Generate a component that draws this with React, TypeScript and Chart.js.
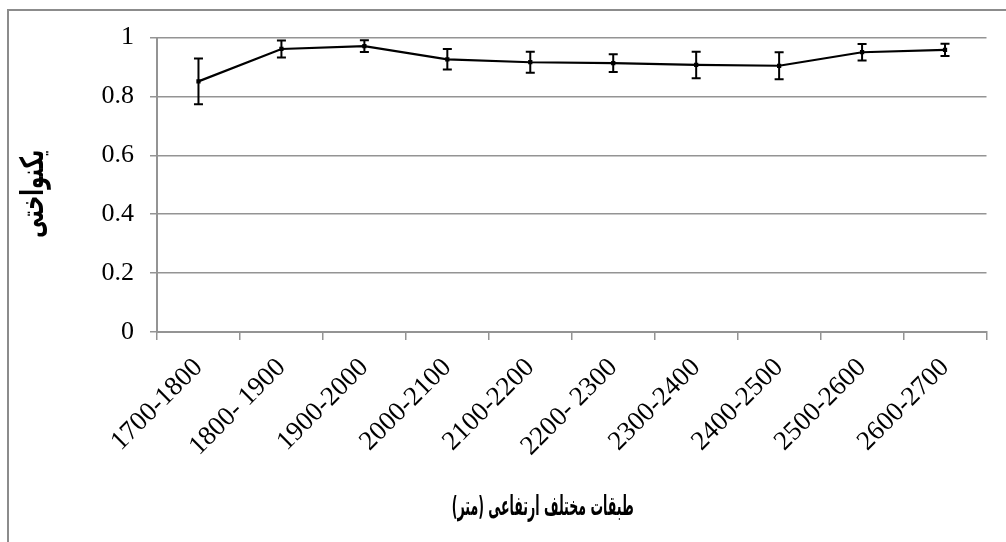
import React, { useEffect, useRef } from "react";
import { Chart, registerables } from "chart.js";

Chart.register(...registerables);

const categories = [
  "1700-1800",
  "1800- 1900",
  "1900-2000",
  "2000-2100",
  "2100-2200",
  "2200- 2300",
  "2300-2400",
  "2400-2500",
  "2500-2600",
  "2600-2700",
];
const uniformity = [0.851, 0.961, 0.971, 0.926, 0.916, 0.913, 0.907, 0.904, 0.95, 0.958];
const errors = [0.078, 0.029, 0.02, 0.035, 0.036, 0.03, 0.045, 0.046, 0.028, 0.021];
const yTicks = [0, 0.2, 0.4, 0.6, 0.8, 1];
const xTitle = "طبقات مختلف ارتفاعی (متر)";
const yTitle = "یکنواختی";

const GRAY = "#949494";

const errorBarPlugin = {
  id: "errorBars",
  afterDatasetsDraw(chart: any) {
    const ctx = chart.ctx;
    const meta = chart.getDatasetMeta(0);
    const y = chart.scales.y;
    ctx.save();
    ctx.strokeStyle = "#000";
    ctx.lineWidth = 2;
    meta.data.forEach((pt: any, i: number) => {
      const x = pt.x;
      const top = y.getPixelForValue(uniformity[i] + errors[i]);
      const bot = y.getPixelForValue(uniformity[i] - errors[i]);
      ctx.beginPath();
      ctx.moveTo(x, top);
      ctx.lineTo(x, bot);
      ctx.moveTo(x - 4.5, top);
      ctx.lineTo(x + 4.5, top);
      ctx.moveTo(x - 4.5, bot);
      ctx.lineTo(x + 4.5, bot);
      ctx.stroke();
    });
    ctx.restore();
  },
};

function drawFitted(ctx: any, text: string, width: number) {
  const w = ctx.measureText(text).width;
  const s = Math.min(1, width / w);
  ctx.save();
  ctx.scale(s, 1);
  ctx.fillText(text, 0, 0);
  ctx.restore();
}

const titlesPlugin = {
  id: "axisTitles",
  afterDraw(chart: any) {
    const ctx = chart.ctx;
    const area = chart.chartArea;
    ctx.save();
    ctx.fillStyle = "#000";
    ctx.textAlign = "center";
    ctx.textBaseline = "middle";
    ctx.direction = "rtl";
    // x title
    ctx.save();
    ctx.font = "bold 27px 'DejaVu Sans'";
    ctx.translate((area.left + area.right) / 2 - 29, 508);
    drawFitted(ctx, xTitle, 182);
    ctx.restore();
    // y title
    ctx.save();
    ctx.font = "bold 32px 'DejaVu Sans'";
    ctx.translate(35, (area.top + area.bottom) / 2 + 9);
    ctx.rotate(-Math.PI / 2);
    drawFitted(ctx, yTitle, 88);
    ctx.restore();
    ctx.restore();
  },
};

const framePlugin = {
  id: "frame",
  beforeDraw(chart: any) {
    const ctx = chart.ctx;
    ctx.save();
    ctx.strokeStyle = "#8c8c8c";
    ctx.lineWidth = 2;
    ctx.beginPath();
    ctx.moveTo(8, 542);
    ctx.lineTo(8, 10);
    ctx.lineTo(1006, 10);
    ctx.stroke();
    ctx.restore();
  },
};

export default function App() {
  const ref = useRef<HTMLCanvasElement | null>(null);
  useEffect(() => {
    if (!ref.current) return;
    const chart = new Chart(ref.current, {
      type: "line",
      data: {
        labels: categories,
        datasets: [
          {
            data: uniformity,
            borderColor: "#000",
            backgroundColor: "#000",
            borderWidth: 2.2,
            pointStyle: "rect",
            pointRadius: 3,
            pointBorderWidth: 0,
            tension: 0,
          },
        ],
      },
      options: {
        responsive: false,
        animation: false,
        layout: { padding: { left: 0, right: 19.5, top: 37.5, bottom: 0 } },
        plugins: {
          legend: { display: false },
          tooltip: { enabled: false },
        },
        scales: {
          x: {
            offset: true,
            grid: {
              offset: true,
              drawOnChartArea: false,
              drawTicks: true,
              tickLength: 8,
              color: GRAY,
              lineWidth: 1.5,
            },
            border: { color: GRAY, width: 2 },
            ticks: {
              color: "#000",
              font: { family: "'Liberation Serif', 'Times New Roman', serif", size: 27 },
              maxRotation: 45,
              minRotation: 45,
              padding: 12,
              autoSkip: false,
            },
            afterFit(scale: any) {
              scale.height = 210;
            },
          },
          y: {
            min: 0,
            max: 1,
            afterBuildTicks(scale: any) {
              scale.ticks = yTicks.map((v) => ({ value: v }));
            },
            grid: {
              color: GRAY,
              lineWidth: 1.5,
              tickLength: 7,
            },
            border: { color: GRAY, width: 2 },
            ticks: {
              color: "#000",
              font: { family: "'Liberation Serif', 'Times New Roman', serif", size: 26 },
              padding: 16,
              callback: (v: any) => String(v),
            },
            afterFit(scale: any) {
              scale.width = 157;
            },
          },
        },
      },
      plugins: [framePlugin, errorBarPlugin, titlesPlugin],
    });
    return () => chart.destroy();
  }, []);
  return (
    <div style={{ position: "fixed", left: 0, top: 0, width: 1006, height: 542, background: "#fff" }}>
      <canvas ref={ref} width={1006} height={542} />
    </div>
  );
}
